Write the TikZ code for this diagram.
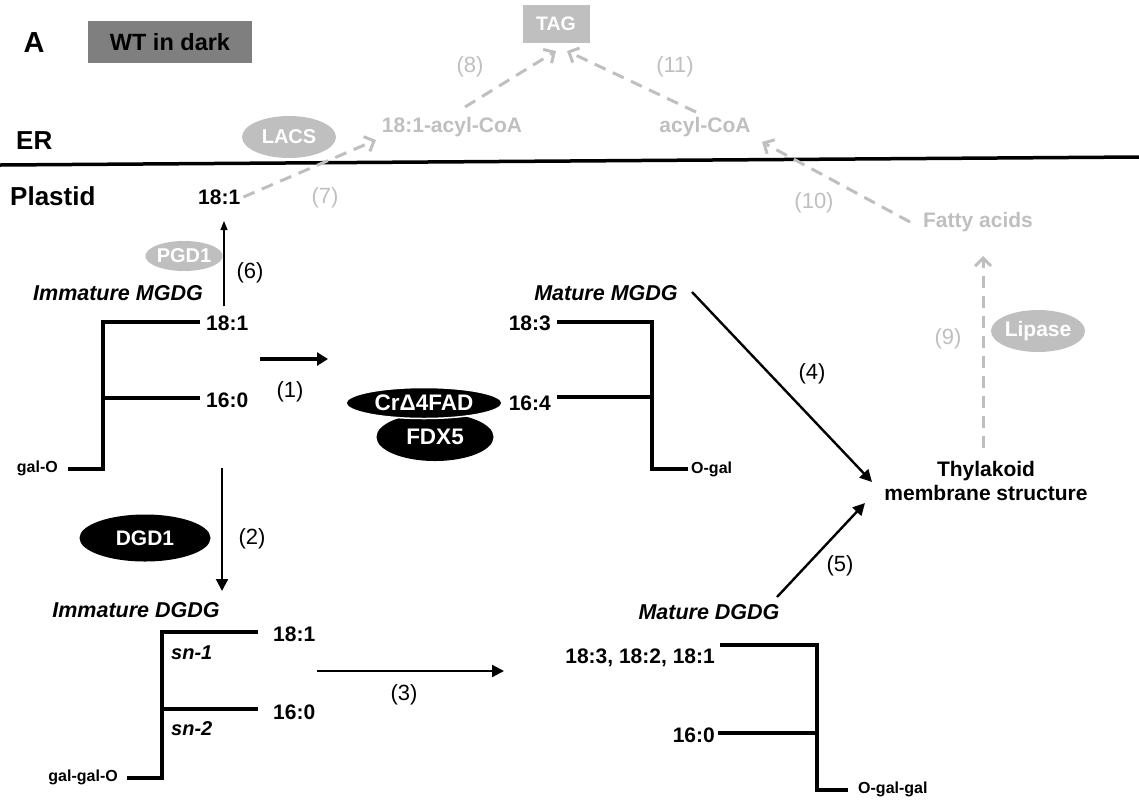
\documentclass[tikz,border=0pt]{standalone}
\usepackage{fontspec}
\setmainfont{Liberation Sans}
\usetikzlibrary{arrows.meta,shapes.geometric}
\definecolor{lgray}{HTML}{BFBFBF}
\definecolor{dgray}{HTML}{7F7F7F}
\begin{document}
\begin{tikzpicture}[x=1pt,y=-1pt,
 lbl/.style={inner sep=0pt,font=\fontsize{21}{23}\selectfont\bfseries},
 glbl/.style={lbl,text=lgray},
 big/.style={inner sep=0pt,font=\fontsize{26}{28}\selectfont\bfseries},
 num/.style={inner sep=0pt,font=\fontsize{22}{24}\selectfont},
 gnum/.style={num,text=lgray},
 ttl/.style={inner sep=0pt,font=\fontsize{21.5}{23}\selectfont\bfseries\itshape},
 snl/.style={inner sep=0pt,font=\fontsize{20}{22}\selectfont\bfseries\itshape},
 small/.style={inner sep=0pt,font=\fontsize{16}{18}\selectfont\bfseries},
 chainline/.style={line width=4.2pt},
 blk/.style={line width=2.4pt,-{Triangle[length=12pt,width=12pt]}},
 thick1/.style={line width=3.5pt,-{Triangle[length=11pt,width=13pt]}},
 gdash/.style={lgray,line width=3pt,dash pattern=on 12pt off 8pt,-{Straight Barb[length=8pt,width=16pt,line width=3pt]}},
 genz/.style={ellipse,fill=lgray,text=white,inner sep=0pt,font=\fontsize{20}{22}\selectfont\bfseries},
 benz/.style={ellipse,fill=black,text=white,inner sep=0pt,font=\fontsize{22.5}{24}\selectfont\bfseries},
]
\useasboundingbox (0,0) rectangle (1139,801);

% header
\node[inner sep=0pt,font=\fontsize{29}{31}\selectfont\bfseries] (A) at (34,43) {A};
\node[fill=dgray,minimum width=164pt,minimum height=42pt,inner sep=0pt,font=\fontsize{23.5}{25}\selectfont\bfseries] (wt) at (170,42) {WT in dark};

% ER / plastid
\node[big,anchor=west] (er) at (16,141) {ER};
\node[big,anchor=west] (plastid) at (10,196) {Plastid};
\coordinate (erL) at (0,165);
\coordinate (erR) at (1139,157);
\draw[line width=3.5pt] (erL) -- (erR);

% ER side
\node[fill=lgray,text=white,minimum width=67pt,minimum height=38pt,inner sep=0pt,font=\fontsize{19.5}{21}\selectfont\bfseries] (tag) at (556,24) {TAG};
\node[glbl] (acyl1) at (452,127) {18:1-acyl-CoA};
\node[glbl] (acyl) at (705,127) {acyl-CoA};
\node[genz,minimum width=94pt,minimum height=42pt] (lacs) at (289,137) {LACS};
\node[gnum] (n8) at (470,67) {(8)};
\node[gnum] (n11) at (675,67) {(11)};
\node[gnum] (n7) at (325,198) {(7)};
\node[gnum] (n10) at (814,203) {(10)};
\node[glbl] (fatty) at (978,222) {Fatty acids};
\node[gnum] (n9) at (948,339) {(9)};
\node[genz,minimum width=92pt,minimum height=42pt,font=\fontsize{21}{23}\selectfont\bfseries] (lipase) at (1038,331) {Lipase};

% plastid 18:1
\node[lbl,anchor=west] (p181) at (198,197) {18:1};
\coordinate (a7e) at (376,140);
\draw[gdash] (p181.east) ++(3,0) coordinate (a7s) -- (a7e);
\coordinate (a8s) at (465,107);
\coordinate (a8e) at (556,51);
\draw[gdash] (a8s) -- (a8e);
\coordinate (a11s) at (696,112);
\coordinate (a11e) at (567,51);
\draw[gdash] (a11s) -- (a11e);
\coordinate (a10s) at (910,222);
\coordinate (a10e) at (762,142);
\draw[gdash] (a10s) -- (a10e);

% thylakoid
\node[lbl,align=center,font=\fontsize{21}{24}\selectfont\bfseries] (thy) at (986,481) {Thylakoid\\membrane structure};
\coordinate (a9s) at (983,448);
\coordinate (a9e) at (983,256);
\draw[gdash] (a9s) -- (a9e);

% Immature MGDG
\node[ttl] (imgdg) at (118,293) {Immature MGDG};
\draw[chainline] (200,322) -- (103,322) -- (103,469) -- (68,469);
\draw[chainline] (103,398) -- (200,398);
\node[lbl,anchor=west] (i181) at (206,323) {18:1};
\node[lbl,anchor=west] (i160) at (206,400) {16:0};
\node[small,anchor=east] (galo) at (58,468) {gal-O};

% (6)
\coordinate (a6s) at (224,306);
\coordinate (a6e) at (224,221);
\draw[line width=1.3pt,-{Triangle[length=9pt,width=7pt]}] (a6s) -- (a6e);
\node[genz,minimum width=70pt,minimum height=30pt] (pgd1) at (184,256) {PGD1};
\node[num] (n6) at (250,273) {(6)};

% (1)
\coordinate (a1s) at (260,359);
\coordinate (a1e) at (328,359);
\draw[thick1] (a1s) -- (a1e);
\node[num] (n1) at (290,392) {(1)};

% enzymes
\node[benz,minimum width=117pt,minimum height=48pt] (fdx5) at (435,437) {FDX5};
\node[benz,minimum width=156pt,minimum height=31pt,draw=white,line width=1.5pt] (fad) at (424,403) {CrΔ4FAD};

% Mature MGDG
\node[ttl] (mmgdg) at (606,293) {Mature MGDG};
\draw[chainline] (557,322) -- (652,322) -- (652,469) -- (688,469);
\draw[chainline] (557,397) -- (652,397);
\node[lbl,anchor=east] (m183) at (551,323) {18:3};
\node[lbl,anchor=east] (m164) at (551,403) {16:4};
\node[small,anchor=west] (ogal) at (691,469) {O-gal};

% (4)
\coordinate (a4s) at (692,292);
\coordinate (a4e) at (872,482);
\draw[blk] (a4s) -- (a4e);
\node[num] (n4) at (812,374) {(4)};

% (2)
\coordinate (a2s) at (222,468);
\coordinate (a2e) at (222,591);
\draw[blk,line width=2pt] (a2s) -- (a2e);
\node[benz,minimum width=131pt,minimum height=47pt,font=\fontsize{21}{23}\selectfont\bfseries] (dgd1) at (145,538) {DGD1};
\node[num] (n2) at (252,539) {(2)};

% Immature DGDG
\node[ttl] (idgdg) at (136,610) {Immature DGDG};
\draw[chainline] (258,632) -- (162,632) -- (162,778) -- (127,778);
\draw[chainline] (162,709) -- (258,709);
\node[lbl,anchor=west] (d181) at (273,634) {18:1};
\node[lbl,anchor=west] (d160) at (273,712) {16:0};
\node[snl,anchor=west] (sn1) at (171,653) {sn-1};
\node[snl,anchor=west] (sn2) at (171,729) {sn-2};
\node[small,anchor=east] (galgalo) at (118,777) {gal-gal-O};

% (3)
\coordinate (a3s) at (317,671);
\coordinate (a3e) at (504,671);
\draw[blk,line width=2.2pt] (a3s) -- (a3e);
\node[num] (n3) at (404,695) {(3)};

% Mature DGDG
\node[ttl] (mdgdg) at (709,612) {Mature DGDG};
\draw[chainline] (720,645) -- (817,645) -- (817,790) -- (848,790);
\draw[chainline] (718,733) -- (817,733);
\node[lbl,anchor=east] (md18) at (715,658) {18:3, 18:2, 18:1};
\node[lbl,anchor=east] (md160) at (715,735) {16:0};
\node[small,anchor=west] (ogalgal) at (858,789) {O-gal-gal};

% (5)
\coordinate (a5s) at (777,597);
\coordinate (a5e) at (865,503);
\draw[blk] (a5s) -- (a5e);
\node[num] (n5) at (840,566) {(5)};
\end{tikzpicture}
\end{document}
